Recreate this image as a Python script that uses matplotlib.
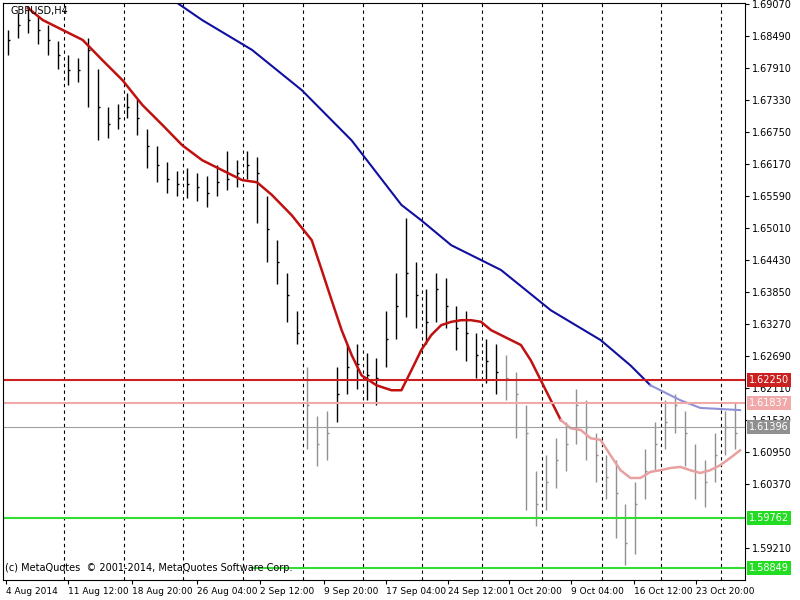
import matplotlib
matplotlib.use("Agg")
import matplotlib.pyplot as plt

bar_x = list(range(5, 745, 10))
closes = [1.6842,1.6869,1.6878,1.6860,1.6842,1.6815,1.6787,1.6787,1.6824,1.6720,1.6690,1.6700,1.6720,1.6700,1.6650,1.6615,
          1.6590,1.6580,1.6580,1.6575,1.6565,1.6585,1.6590,1.6600,1.6615,1.6600,1.6500,1.6440,1.6380,1.6310,1.6180,1.6110,
          1.6130,1.6200,1.6250,1.6255,1.6235,1.6230,1.6300,1.6360,1.6420,1.6380,1.6330,1.6390,1.6360,1.6320,1.6310,1.6270,
          1.6260,1.6240,1.6230,1.6200,1.6130,1.6000,1.6040,1.6080,1.6110,1.6180,1.6140,1.6090,1.6050,1.6020,1.5930,1.6000,
          1.6060,1.6110,1.6150,1.6180,1.6130,1.6060,1.6040,1.6090,1.6140,1.6130]
highs = [1.6860,1.6890,1.6900,1.6885,1.6870,1.6840,1.6815,1.6810,1.6845,1.6790,1.6720,1.6725,1.6745,1.6735,1.6680,1.6650,
         1.6620,1.6605,1.6610,1.6600,1.6595,1.6615,1.6640,1.6625,1.6640,1.6630,1.6560,1.6480,1.6420,1.6350,1.6250,1.6160,
         1.6170,1.6250,1.6290,1.6290,1.6275,1.6265,1.6350,1.6420,1.6520,1.6440,1.6390,1.6420,1.6410,1.6360,1.6350,1.6310,
         1.6300,1.6290,1.6270,1.6240,1.6180,1.6060,1.6090,1.6120,1.6150,1.6210,1.6190,1.6130,1.6090,1.6080,1.6000,1.6040,
         1.6100,1.6150,1.6190,1.6200,1.6170,1.6110,1.6080,1.6130,1.6170,1.6185]
lows = [1.6815,1.6845,1.6855,1.6835,1.6815,1.6790,1.6760,1.6765,1.6720,1.6660,1.6665,1.6680,1.6700,1.6670,1.6610,1.6585,
        1.6565,1.6560,1.6555,1.6550,1.6540,1.6560,1.6570,1.6575,1.6590,1.6510,1.6440,1.6400,1.6330,1.6290,1.6100,1.6070,
        1.6080,1.6150,1.6200,1.6210,1.6190,1.6180,1.6250,1.6300,1.6340,1.6320,1.6290,1.6330,1.6320,1.6280,1.6260,1.6230,
        1.6220,1.6200,1.6190,1.6120,1.5990,1.5960,1.5990,1.6030,1.6060,1.6110,1.6080,1.6040,1.6010,1.5940,1.5890,1.5910,
        1.6010,1.6060,1.6100,1.6130,1.6070,1.6010,1.5995,1.6040,1.6090,1.6100]

ma_fast_x = [25,40,60,80,100,120,140,160,180,200,220,240,255,270,290,310,320,330,340,350,360,375,390,400,410,420,430,440,
             450,460,470,480,490,500,510,520,530,540,550,560,570,580,590,600,610,620,630,640,650,660,670,680,690,700,710,720,730,740]
ma_fast = [1.6900,1.6878,1.6860,1.6842,1.6805,1.6769,1.6724,1.6688,1.6651,1.6624,1.6606,1.6588,1.6584,1.6561,1.6524,1.6479,
           1.6425,1.6370,1.6316,1.6271,1.6234,1.6216,1.6207,1.6207,1.6243,1.6280,1.6307,1.6325,1.6331,1.6334,1.6334,1.6331,
           1.6316,1.6307,1.6298,1.6289,1.6261,1.6225,1.6189,1.6153,1.6138,1.6135,1.6120,1.6117,1.6089,1.6062,1.6048,1.6048,
           1.6059,1.6062,1.6066,1.6068,1.6062,1.6057,1.6062,1.6071,1.6084,1.6098]
ma_slow_x = [175,200,250,300,350,400,420,450,500,550,600,630,650,680,700,740]
ma_slow = [1.6909,1.6878,1.6824,1.6751,1.6660,1.6543,1.6515,1.6470,1.6425,1.6352,1.6298,1.6252,1.6216,1.6189,1.6175,1.6171]

levels = [1.62250, 1.61837, 1.61396, 1.59762, 1.58849]
level_colors = ["#cc2020", "#f0a8a8", "#a0a0a0", "#33dd33", "#33dd33"]
level_labels = ["1.62250", "1.61837", "1.61396", "1.59762", "1.58849"]
yticks = [1.69070,1.68490,1.67910,1.67330,1.66750,1.66170,1.65590,1.65010,1.64430,1.63850,1.63270,1.62690,1.62110,1.61530,1.60950,1.60370,1.59210]
vgrid_x = [61,121,181,241,301,361,421,481,541,601,661,721]
time_x = [3,65,130,195,258,322,385,447,508,570,634,696]
time_labels = ["4 Aug 2014","11 Aug 12:00","18 Aug 20:00","26 Aug 04:00","2 Sep 12:00","9 Sep 20:00",
               "17 Sep 04:00","24 Sep 12:00","1 Oct 20:00","9 Oct 04:00","16 Oct 12:00","23 Oct 20:00"]

plt.rcParams['font.family'] = ['DejaVu Sans']
fig = plt.figure(figsize=(8, 6), dpi=100)
ax = fig.add_axes([3/800, 20/600, 742/800, 577/600])
ax.set_xlim(0, 745)
ax.set_ylim(1.5863, 1.6909)
for v in vgrid_x:
    ax.axvline(v, color="black", ls=(0, (3, 3)), lw=0.8)
for x, h, l, c in zip(bar_x, highs, lows, closes):
    col = "black" if (x < 500 and not 300 <= x <= 330) else "#909090"
    ax.vlines(x, l, h, color=col, lw=1)
    ax.hlines(c, x, x + 2, color=col, lw=1)
k = ma_fast_x.index(560)
ax.plot(ma_fast_x[:k + 1], ma_fast[:k + 1], color="#c01010", lw=1.8)
ax.plot(ma_fast_x[k:], ma_fast[k:], color="#e8a0a0", lw=1.8)
ax.plot(ma_slow_x[:13], ma_slow[:13], color="#1010a0", lw=1.5)
ax.plot(ma_slow_x[12:], ma_slow[12:], color="#9090d8", lw=1.5)
for i, (lv, col) in enumerate(zip(levels, level_colors)):
    xmin = 250 / 745 if i == 4 else 0
    ax.axhline(lv, xmin=xmin, color=col, lw=1.5 if i != 2 else 0.8)

ax.yaxis.tick_right()
ax.set_yticks(yticks)
ax.set_yticklabels([f"{t:.5f}" for t in yticks], fontsize=7)
ax.set_xticks(time_x)
ax.set_xticklabels(time_labels, fontsize=6.5, ha="left")
ax.tick_params(length=3, pad=2)
for lv, col, lab in zip(levels, level_colors, level_labels):
    fc = {"#a0a0a0": "#909090", "#33dd33": "#22dd22"}.get(col, col)
    ax.text(1.005, lv, lab, transform=ax.get_yaxis_transform(), fontsize=7, color="white", va="center",
            bbox=dict(boxstyle="square,pad=0.2", fc=fc, ec="none"), zorder=5)
ax.text(0.01, 0.995, "GBPUSD,H4", transform=ax.transAxes, fontsize=7, va="top")
ax.text(0.003, 0.015, "(c) MetaQuotes  © 2001-2014, MetaQuotes Software Corp.", transform=ax.transAxes, fontsize=7)
fig.savefig("out.png", dpi=100)
